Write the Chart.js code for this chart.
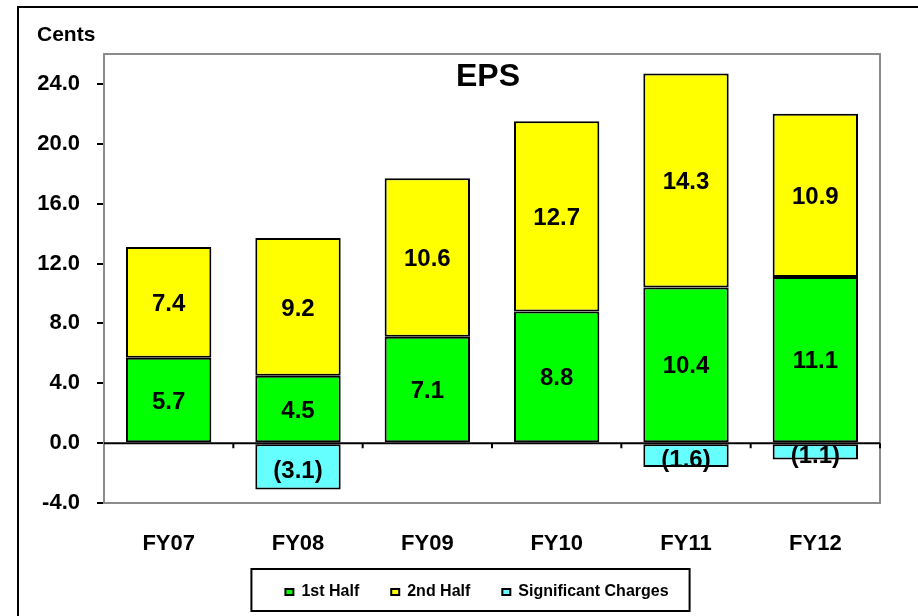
<!DOCTYPE html>
<html>
<head>
<meta charset="utf-8">
<script src="https://cdn.jsdelivr.net/npm/chart.js@4.4.0/dist/chart.umd.min.js"></script>
<style>
  html, body { margin: 0; padding: 0; background: #fff; }
  #wrap { width: 918px; height: 616px; }
</style>
</head>
<body>
<div id="wrap"><canvas id="eps" width="918" height="616"></canvas></div>
<script>
// values (cents)
const years = ['FY07', 'FY08', 'FY09', 'FY10', 'FY11', 'FY12'];
const firstHalf = [5.7, 4.5, 7.1, 8.8, 10.4, 11.1];
const secondHalf = [7.4, 9.2, 10.6, 12.7, 14.3, 10.9];
const sigCharges = [0, -3.1, 0, 0, -1.6, -1.1];
const yMin = -4, yMax = 26, yStep = 4;

const FONT = "'Liberation Sans', Arial, Helvetica, sans-serif";
Chart.defaults.color = '#000';
Chart.defaults.font.family = FONT;

const fmt = v => v < 0 ? '(' + Math.abs(v).toFixed(1) + ')' : v.toFixed(1);

// value labels centred in each segment
const segmentLabels = {
  id: 'segmentLabels',
  afterDatasetsDraw(chart) {
    const ctx = chart.ctx;
    ctx.save();
    ctx.font = 'bold 24px ' + FONT;
    ctx.fillStyle = '#000';
    ctx.textAlign = 'center';
    ctx.textBaseline = 'middle';
    chart.data.datasets.forEach((ds, i) => {
      chart.getDatasetMeta(i).data.forEach((bar, j) => {
        const v = ds.data[j];
        if (!v) return;
        const dy = v < 0 ? 5 : 2;
        ctx.fillText(fmt(v), bar.x, (bar.y + bar.base) / 2 + dy);
      });
    });
    ctx.restore();
  }
};

// plot frame, zero line, title, unit text, legend box, outer border
const decorations = {
  id: 'decorations',
  afterLayout(chart) {
    // legend sits a bit right of the canvas centre, as in the original
    chart.legend.left = 74;
  },
  beforeDatasetsDraw(chart) {
    const { ctx, chartArea: a } = chart;
    ctx.save();
    ctx.strokeStyle = '#8c8c8c';
    ctx.lineWidth = 2;
    ctx.strokeRect(a.left, a.top, a.right - a.left, a.bottom - a.top);
    ctx.restore();
  },
  afterDatasetsDraw(chart) {
    const { ctx, chartArea: a } = chart;
    const y0 = chart.scales.y.getPixelForValue(0);
    ctx.save();
    ctx.strokeStyle = '#000';
    ctx.lineWidth = 2;
    ctx.beginPath();
    ctx.moveTo(a.left, y0);
    ctx.lineTo(a.right, y0);
    const step = (a.right - a.left) / years.length;
    for (let i = 1; i <= years.length; i++) {
      ctx.moveTo(a.left + i * step, y0);
      ctx.lineTo(a.left + i * step, y0 + 5);
    }
    ctx.stroke();
    ctx.restore();
  },
  afterDraw(chart) {
    const { ctx, chartArea: a } = chart;
    ctx.save();
    ctx.fillStyle = '#000';
    ctx.textBaseline = 'middle';
    ctx.textAlign = 'center';
    ctx.font = 'bold 32px ' + FONT;
    ctx.fillText('EPS', (a.left + a.right) / 2 - 4, 77);
    ctx.textAlign = 'left';
    ctx.font = 'bold 21px ' + FONT;
    ctx.fillText('Cents', 37, 35);

    const hb = chart.legend.legendHitBoxes;
    if (hb && hb.length) {
      const first = hb[0], last = hb[hb.length - 1];
      const left = first.left - 34;
      const right = last.left + last.width + 21;
      const top = first.top - 15;
      const bottom = first.top + first.height + 11;
      ctx.strokeStyle = '#000';
      ctx.lineWidth = 2;
      ctx.strokeRect(left, top, right - left, bottom - top);
    }

    ctx.strokeStyle = '#000';
    ctx.lineWidth = 2;
    ctx.strokeRect(18, 7, 1000, 1000);
    ctx.restore();
  }
};

new Chart(document.getElementById('eps'), {
  type: 'bar',
  data: {
    labels: years,
    datasets: [
      {
        label: '1st Half',
        data: firstHalf,
        backgroundColor: '#00ff00',
        borderColor: '#000',
        borderWidth: 2,
        borderSkipped: false
      },
      {
        label: '2nd Half',
        data: secondHalf,
        backgroundColor: '#ffff00',
        borderColor: '#000',
        borderWidth: 2,
        borderSkipped: false
      },
      {
        label: 'Significant Charges',
        data: sigCharges,
        backgroundColor: '#66ffff',
        borderColor: '#000',
        borderWidth: 2,
        borderSkipped: false
      }
    ]
  },
  options: {
    responsive: false,
    animation: false,
    categoryPercentage: 1,
    barPercentage: 0.66,
    layout: { padding: { top: 54, left: 0, right: 38, bottom: 6 } },
    plugins: {
      tooltip: { enabled: false },
      legend: {
        position: 'bottom',
        labels: {
          boxWidth: 8,
          boxHeight: 6,
          padding: 32,
          font: { size: 16, weight: 'bold' },
          color: '#000'
        }
      }
    },
    scales: {
      x: {
        stacked: true,
        afterFit(scale) { scale.height = 49; },
        grid: { display: false, drawTicks: false },
        border: { display: false },
        ticks: { font: { size: 22, weight: 'bold' }, padding: 28, color: '#000' }
      },
      y: {
        stacked: true,
        min: yMin,
        max: yMax,
        afterFit(scale) { scale.width = 104; },
        grid: { drawOnChartArea: false, color: '#000', lineWidth: 2, tickLength: 7 },
        border: { color: '#000', width: 2 },
        ticks: {
          stepSize: yStep,
          includeBounds: false,
          padding: 17,
          font: { size: 22, weight: 'bold' },
          color: '#000',
          callback: v => Number(v).toFixed(1)
        }
      }
    }
  },
  plugins: [segmentLabels, decorations]
});
</script>
</body>
</html>
